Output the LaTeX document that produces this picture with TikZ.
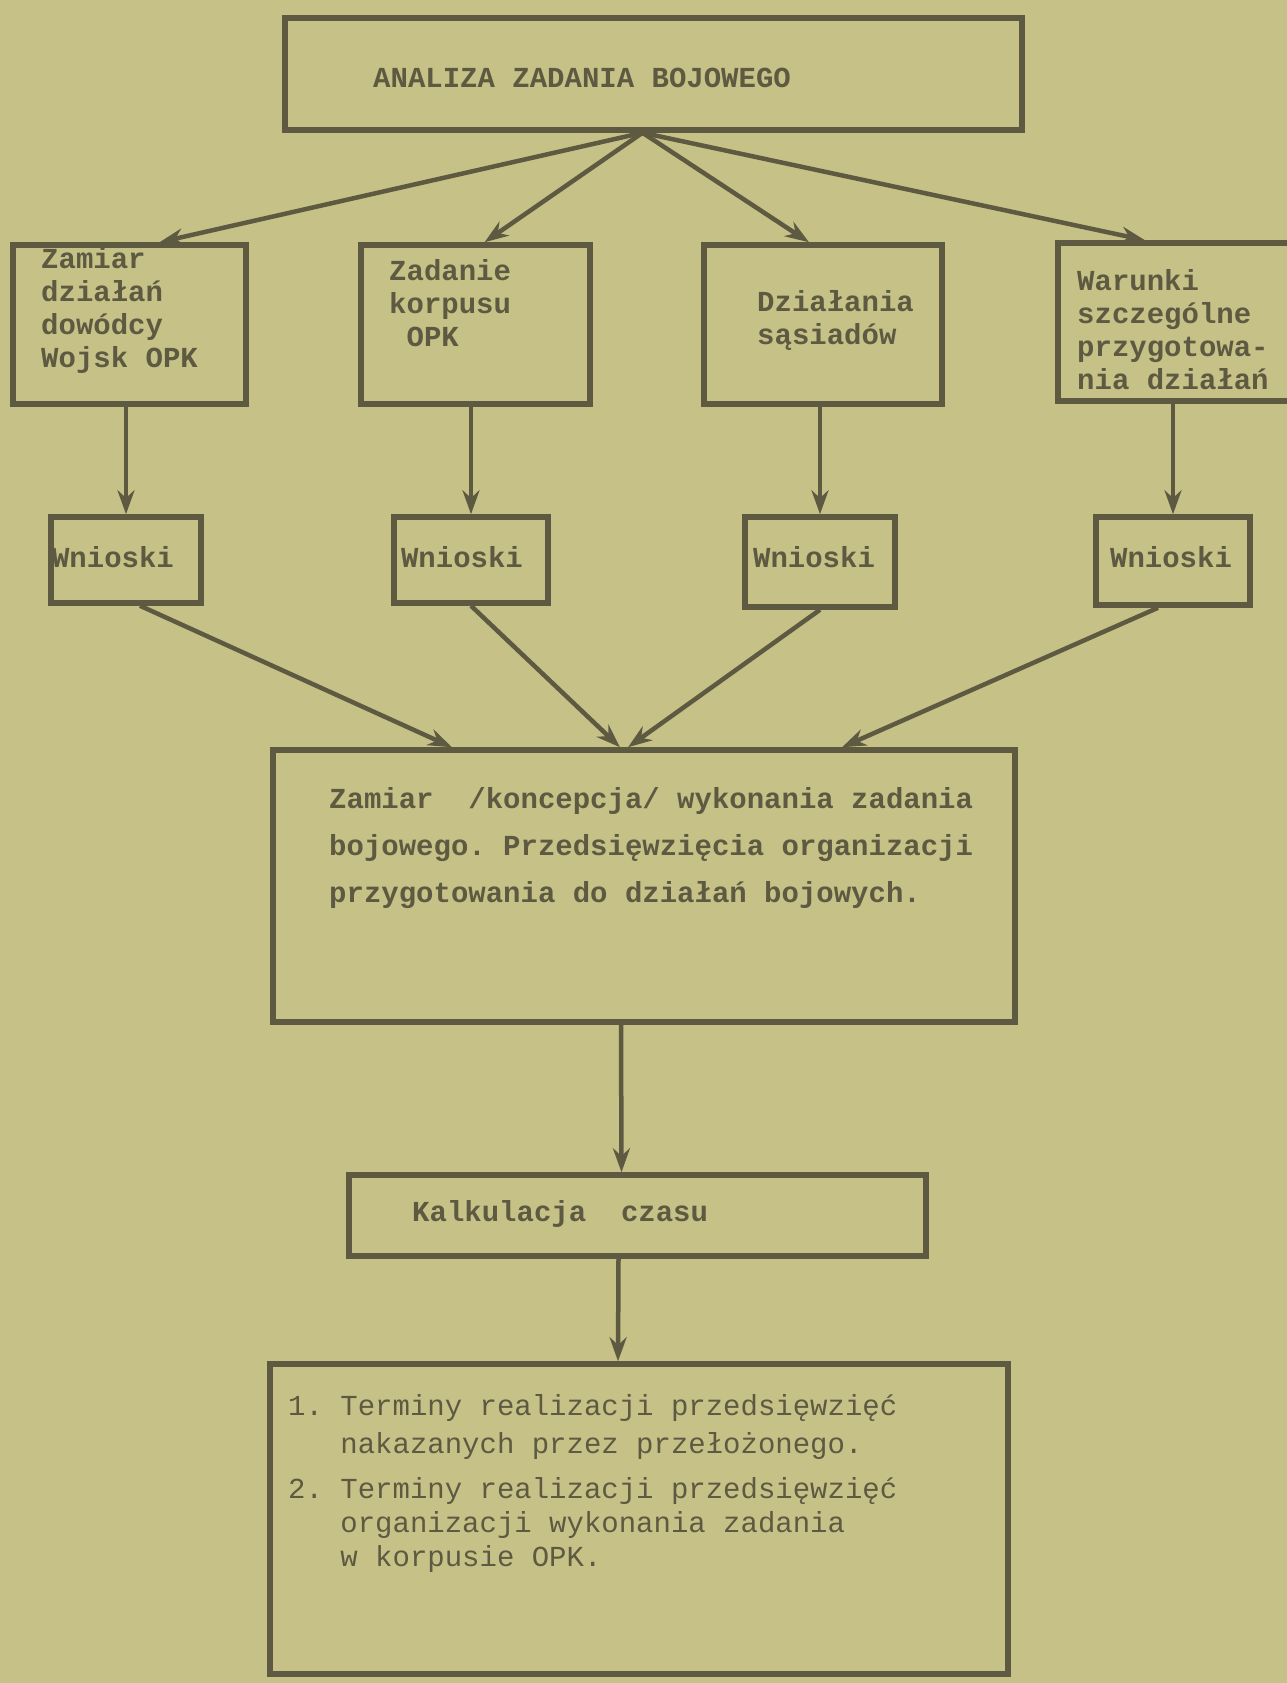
\documentclass[tikz,border=0pt]{standalone}
\usepackage{fontspec}
\setmonofont{Liberation Mono}
\usetikzlibrary{arrows.meta}
\definecolor{paper}{RGB}{198,193,135}
\definecolor{ink}{RGB}{94,90,66}

\begin{document}
\begin{tikzpicture}[x=1pt,y=-1pt,
    box/.style={draw=ink,line width=5.5pt,inner sep=0pt},
    lbl/.style={text=ink,inner sep=0pt,anchor=west,align=left,
      font=\ttfamily\bfseries\fontsize{29}{33}\selectfont},
    arr/.style={draw=ink,line width=4.5pt,-{Stealth[length=24pt,width=17pt]}}]

    % Paper
    \fill[paper] (0,0) rectangle (1287,1683);
    \useasboundingbox (0,0) rectangle (1287,1683);
    \clip (0,0) rectangle (1287,1683);

    % Boxes
    \node[box,minimum width=737pt,minimum height=112pt] (top) at (653.5,74) {};
    \node[box,minimum width=233pt,minimum height=159pt] (b1) at (129.5,324.5) {};
    \node[box,minimum width=229pt,minimum height=159pt] (b2) at (475.5,324.5) {};
    \node[box,minimum width=238pt,minimum height=159pt] (b3) at (823,324.5) {};
    \node[box,minimum width=242pt,minimum height=158pt] (b4) at (1179,322) {};
    \node[box,minimum width=150pt,minimum height=86pt] (w1) at (126,560) {};
    \node[box,minimum width=154pt,minimum height=86pt] (w2) at (471,560) {};
    \node[box,minimum width=150pt,minimum height=90pt] (w3) at (820,562) {};
    \node[box,minimum width=154pt,minimum height=88pt] (w4) at (1173,561) {};
    \node[box,minimum width=742pt,minimum height=272pt] (mid) at (644,886) {};
    \node[box,minimum width=577pt,minimum height=81pt] (calc) at (637.5,1215.5) {};
    \node[box,minimum width=738pt,minimum height=310pt] (res) at (639,1519) {};

    % Labels
    \node[lbl] (ttop) at (373,78) {ANALIZA ZADANIA BOJOWEGO};
    \node[lbl] (t1) at (41,310) {Zamiar\\działań\\dowódcy\\Wojsk OPK};
    \node[lbl] (t2) at (389,303) {Zadanie\\korpusu\\\hphantom{O}OPK};
    \node[lbl] (t3) at (757,320) {Działania\\sąsiadów};
    \node[lbl] (t4) at (1077,330) {Warunki\\szczególne\\przygotowa-\\nia działań};
    \node[lbl,anchor=center] (tw1) at (113,557) {Wnioski};
    \node[lbl,anchor=center] (tw2) at (462,557) {Wnioski};
    \node[lbl,anchor=center] (tw3) at (814,557) {Wnioski};
    \node[lbl,anchor=center] (tw4) at (1171,557) {Wnioski};
    \node[lbl,font=\ttfamily\bfseries\fontsize{29}{47}\selectfont] (tmid) at (329,848)
      {Zamiar\ \ /koncepcja/ wykonania zadania\\bojowego. Przedsięwzięcia organizacji\\przygotowania do działań bojowych.};
    \node[lbl] (tcalc) at (412,1214) {Kalkulacja\ \ czasu};
    \node[lbl,font=\ttfamily\fontsize{29}{38}\selectfont] (r1) at (288,1427)
      {1.\ Terminy realizacji przedsięwzięć\\\hphantom{1.\ }nakazanych przez przełożonego.};
    \node[lbl,font=\ttfamily\fontsize{29}{34}\selectfont] (r2) at (288,1525)
      {2.\ Terminy realizacji przedsięwzięć\\\hphantom{2.\ }organizacji wykonania zadania\\\hphantom{2.\ }w korpusie OPK.};

    % Arrows from the analysis
    \draw[arr] ([xshift=-11pt]top.south) -- ([xshift=30pt]b1.north);
    \draw[arr] ([xshift=-11pt]top.south) -- ([xshift=9pt]b2.north);
    \draw[arr] ([xshift=-11pt]top.south) -- ([xshift=-14pt]b3.north);
    \draw[arr] ([xshift=-11pt]top.south) -- ([xshift=-34pt]b4.north);

    % Down to the conclusions
    \draw[arr] (b1.south -| w1.north) -- (w1.north);
    \draw[arr] (b2.south -| w2.north) -- (w2.north);
    \draw[arr] (b3.south -| w3.north) -- (w3.north);
    \draw[arr] (b4.south -| w4.north) -- (w4.north);

    % Conclusions into the concept
    \draw[arr] ([xshift=14pt]w1.south) -- ([xshift=-192pt]mid.north);
    \draw[arr] (w2.south) -- ([xshift=-24pt]mid.north);
    \draw[arr] (w3.south) -- ([xshift=-16pt]mid.north);
    \draw[arr] ([xshift=-15pt]w4.south) -- ([xshift=198pt]mid.north);

    % Down the chain
    \draw[arr] ([xshift=-23pt]mid.south) -- ([xshift=-16pt]calc.north);
    \draw[arr] ([xshift=-19pt]calc.south) -- ([xshift=-21pt]res.north);

\end{tikzpicture}
\end{document}
